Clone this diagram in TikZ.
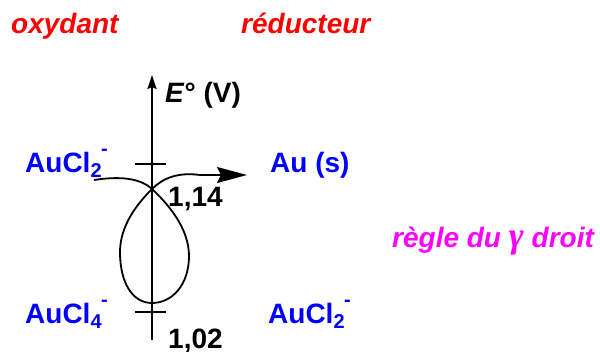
\documentclass[tikz,border=0pt]{standalone}
\usepackage{fontspec}
\setmainfont{Liberation Sans}
\newfontfamily\greekfont{Liberation Serif}
\usetikzlibrary{arrows.meta}
\definecolor{cred}{RGB}{255,0,0}
\definecolor{cblue}{RGB}{0,0,255}
\definecolor{cmag}{RGB}{255,0,255}
\newcommand{\subsup}[2]{\raisebox{-0.19em}{\fontsize{20}{20}\selectfont #1}\kern-0.02em\raisebox{0.6em}{\fontsize{20}{20}\selectfont #2}}
\begin{document}
\begin{tikzpicture}[x=1pt,y=-1pt,
  txt/.style={inner sep=0pt,anchor=base west,font=\fontsize{28}{30}\selectfont\bfseries},
  ox/.style={txt,text=cred,font=\fontsize{28}{30}\selectfont\bfseries\itshape},
  sp/.style={txt,text=cblue},
  val/.style={txt,text=black},
  ln/.style={line width=1.8pt,black}]
\useasboundingbox (0,0) rectangle (600,351);
% headers
\node[ox] (oxy) at (11,33) {oxydant};
\node[ox] (red) at (241,33) {réducteur};
% axis
\coordinate (abot) at (152,340);
\coordinate (atop) at (152,75);
\draw[ln,-{Stealth[length=14pt,width=9pt,inset=2pt]}] (abot) -- (atop);
\node[txt] (lab) at (165,102) {\textit{E}° (V)};
% ticks
\coordinate (t1a) at (135,164); \coordinate (t1b) at (166,164);
\coordinate (t2a) at (135,312); \coordinate (t2b) at (166,312);
\draw[ln] (t1a) -- (t1b);
\draw[ln] (t2a) -- (t2b);
% species
\node[sp] (ox1) at (25,172) {AuCl\subsup{2}{-}};
\node[sp] (re1) at (270,172) {Au (s)};
\node[sp] (ox2) at (25,323) {AuCl\subsup{4}{-}};
\node[sp] (re2) at (268,323) {AuCl\subsup{2}{-}};
% values
\node[val] (v1) at (168,206) {1,14};
\node[val] (v2) at (168,348) {1,02};
% rule
\node[txt,text=cmag,font=\fontsize{28}{30}\selectfont\bfseries\itshape] (rule) at (392,247) {règle du {\greekfont\fontsize{36}{36}\selectfont γ} droit};
% gamma curve
\coordinate (s) at (94,180);
\coordinate (c) at (152,189);
\coordinate (e) at (247,175);
\draw[ln,-{Stealth[length=30pt,width=16pt,inset=4pt]}]
  (s) .. controls (120,176) and (140,178) .. (c)
      .. controls (168,204) and (189,228) .. (189,256)
      .. controls (189,285) and (172,303) .. (152,303)
      .. controls (132,303) and (120,282) .. (120,252)
      .. controls (120,225) and (138,203) .. (c)
      .. controls (163,178) and (178,172) .. (200,175)
      -- (e);
\end{tikzpicture}
\end{document}
